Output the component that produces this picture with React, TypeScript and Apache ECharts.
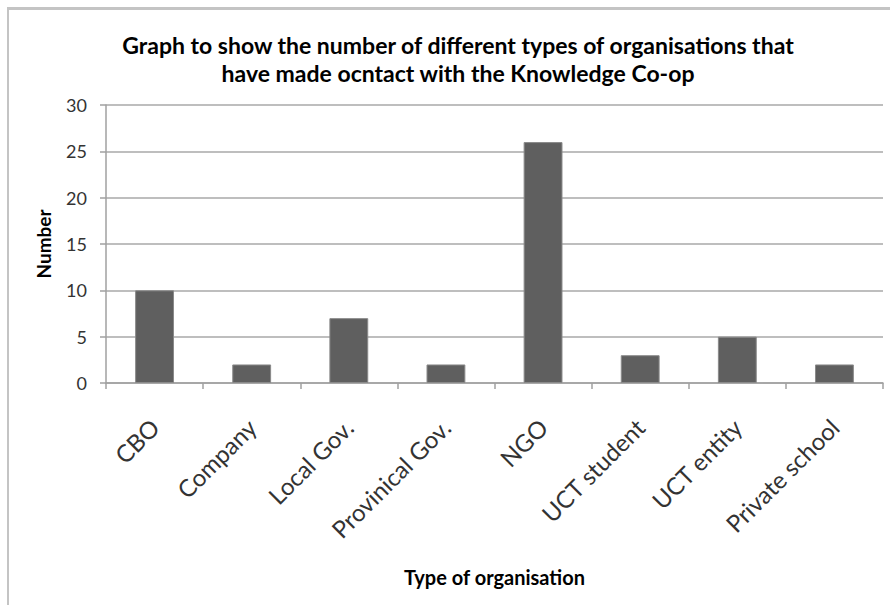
import React, { useEffect, useRef } from "react";
import * as echarts from "echarts";

const categories = ["CBO", "Company", "Local Gov.", "Provinical Gov.", "NGO", "UCT student", "UCT entity", "Private school"];
const counts = [10, 2, 7, 2, 26, 3, 5, 2];
const yTicks = { min: 0, max: 30, interval: 5 };

const FONT = "Lato";

export default function App() {
  const ref = useRef<HTMLDivElement>(null);
  useEffect(() => {
    const chart = echarts.init(ref.current!, null, { renderer: "svg" });
    chart.setOption({
      animation: false,
      backgroundColor: "#ffffff",
      title: {
        text: "Graph to show the number of different types of organisations that\nhave made ocntact with the Knowledge Co-op",
        left: 453,
        top: 26,
        textAlign: "center",
        textStyle: { fontFamily: FONT, fontWeight: "bold", fontSize: 23, lineHeight: 28, color: "#000000" },
      },
      graphic: [
        { type: "rect", shape: { x: 7, y: 7, width: 890, height: 3 }, style: { fill: "#c4c4c4" }, silent: true },
        { type: "rect", shape: { x: 7, y: 7, width: 2, height: 600 }, style: { fill: "#c4c4c4" }, silent: true },
      ],
      grid: { left: 106, right: 7, top: 105, bottom: 222, containLabel: false },
      xAxis: {
        type: "category",
        data: categories,
        name: "Type of organisation",
        nameLocation: "middle",
        nameGap: 184,
        nameTextStyle: { fontFamily: FONT, fontWeight: "bold", fontSize: 20, color: "#000000" },
        axisLine: { lineStyle: { color: "#a0a0a0", width: 1.5 } },
        axisTick: { show: true, length: 6, lineStyle: { color: "#a0a0a0", width: 1.5 } },
        axisLabel: { rotate: 45, fontFamily: FONT, fontSize: 24, color: "#333333", margin: 40, interval: 0 },
      },
      yAxis: {
        type: "value",
        min: yTicks.min,
        max: yTicks.max,
        interval: yTicks.interval,
        name: "Number",
        nameLocation: "middle",
        nameGap: 53,
        nameRotate: 90,
        nameTextStyle: { fontFamily: FONT, fontWeight: "bold", fontSize: 19, color: "#000000" },
        axisLine: { show: true, lineStyle: { color: "#a0a0a0", width: 1.5 } },
        axisTick: { show: true, length: 6, lineStyle: { color: "#a0a0a0", width: 1.5 } },
        axisLabel: { fontFamily: FONT, fontSize: 18, color: "#333333", margin: 19 },
        splitLine: { show: true, lineStyle: { color: "#a8a8a8", width: 1.5 } },
      },
      series: [
        {
          type: "bar",
          data: counts,
          barWidth: "40%",
          itemStyle: { color: "#5f5f5f", borderColor: "#8a8a8a", borderWidth: 1 },
        },
      ],
    });
    return () => chart.dispose();
  }, []);
  return <div ref={ref} style={{ position: "absolute", left: 0, top: 0, width: 890, height: 605 }} />;
}
